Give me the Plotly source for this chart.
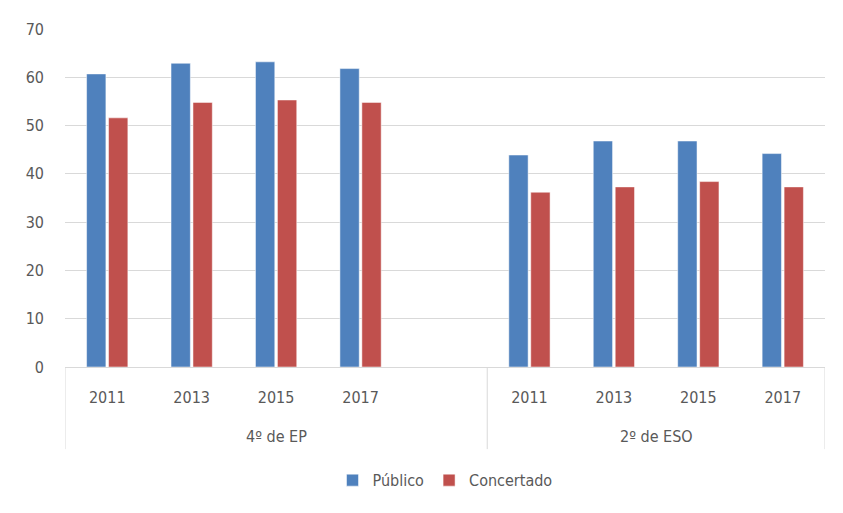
import plotly.graph_objects as go

groups = ["4º de EP"] * 5 + ["2º de ESO"] * 4
years = ["2011", "2013", "2015", "2017", "", "2011", "2013", "2015", "2017"]
publico = [60.7, 62.9, 63.2, 61.8, None, 43.9, 46.8, 46.8, 44.2]
concertado = [51.6, 54.8, 55.3, 54.8, None, 36.2, 37.3, 38.4, 37.3]
y_ticks = [0, 10, 20, 30, 40, 50, 60, 70]

FONT = "DejaVu Sans Condensed, DejaVu Sans, sans-serif"
TXT = "#595959"
GRID = "#D9D9D9"
FS = 16

# unique category keys (group + year)
keys = [f"{g}|{y}|{i}" for i, (g, y) in enumerate(zip(groups, years))]

fig = go.Figure()
fig.add_trace(go.Bar(x=keys, y=publico, name="Público",
                     marker=dict(color="#4F81BD", line=dict(color="rgba(255,255,255,0.5)", width=1))))
fig.add_trace(go.Bar(x=keys, y=concertado, name="Concertado",
                     marker=dict(color="#C0504D", line=dict(color="rgba(255,255,255,0.5)", width=1))))

group_names = []
for g in groups:
    if g not in group_names:
        group_names.append(g)
shapes = []
annotations = []
pos = 0
shapes.append(dict(type="line", xref="x", yref="paper", x0=-0.5, x1=-0.5, y0=0, y1=-0.243,
                   line=dict(color=GRID, width=1)))
for g in group_names:
    n = groups.count(g)
    start, end = pos - 0.5, pos + n - 0.5
    annotations.append(dict(x=(start + end) / 2, y=-0.207, xref="x", yref="paper",
                            text=g, showarrow=False, yanchor="middle",
                            font=dict(family=FONT, size=FS, color=TXT)))
    shapes.append(dict(type="line", xref="x", yref="paper", x0=end, x1=end, y0=0, y1=-0.243,
                       line=dict(color=GRID, width=1)))
    pos += n

shapes.append(dict(type="rect", xref="paper", yref="paper",
                   x0=(7 - 65) / 760, x1=1.2, y0=-0.6, y1=(367 - 4) / 338,
                   line=dict(color=GRID, width=1), fillcolor="rgba(0,0,0,0)", layer="below"))

fig.update_layout(
    width=835, height=505,
    margin=dict(l=57, r=18, t=21, b=146),
    paper_bgcolor="white", plot_bgcolor="white",
    barmode="group", bargap=0.48, bargroupgap=0.12,
    font=dict(family=FONT, size=FS, color=TXT),
    legend=dict(orientation="h", x=0.5, xanchor="center", y=-0.335, yanchor="middle",
                font=dict(size=FS, color=TXT), traceorder="normal", itemwidth=30),
    xaxis=dict(type="category", tickvals=keys, ticktext=years,
               showline=True, linecolor=GRID, linewidth=1,
               showgrid=False, ticks="", ticklabelstandoff=16,
               tickfont=dict(size=FS, color=TXT), range=[-0.5, len(keys) - 0.5]),
    yaxis=dict(range=[0, 70], tickvals=y_ticks, showgrid=True, gridcolor=GRID,
               gridwidth=1, zeroline=False, showline=False, ticks="",
               ticklabelstandoff=20, tickfont=dict(size=FS, color=TXT)),
    shapes=shapes,
    annotations=annotations,
)

fig.write_html("out.html")
